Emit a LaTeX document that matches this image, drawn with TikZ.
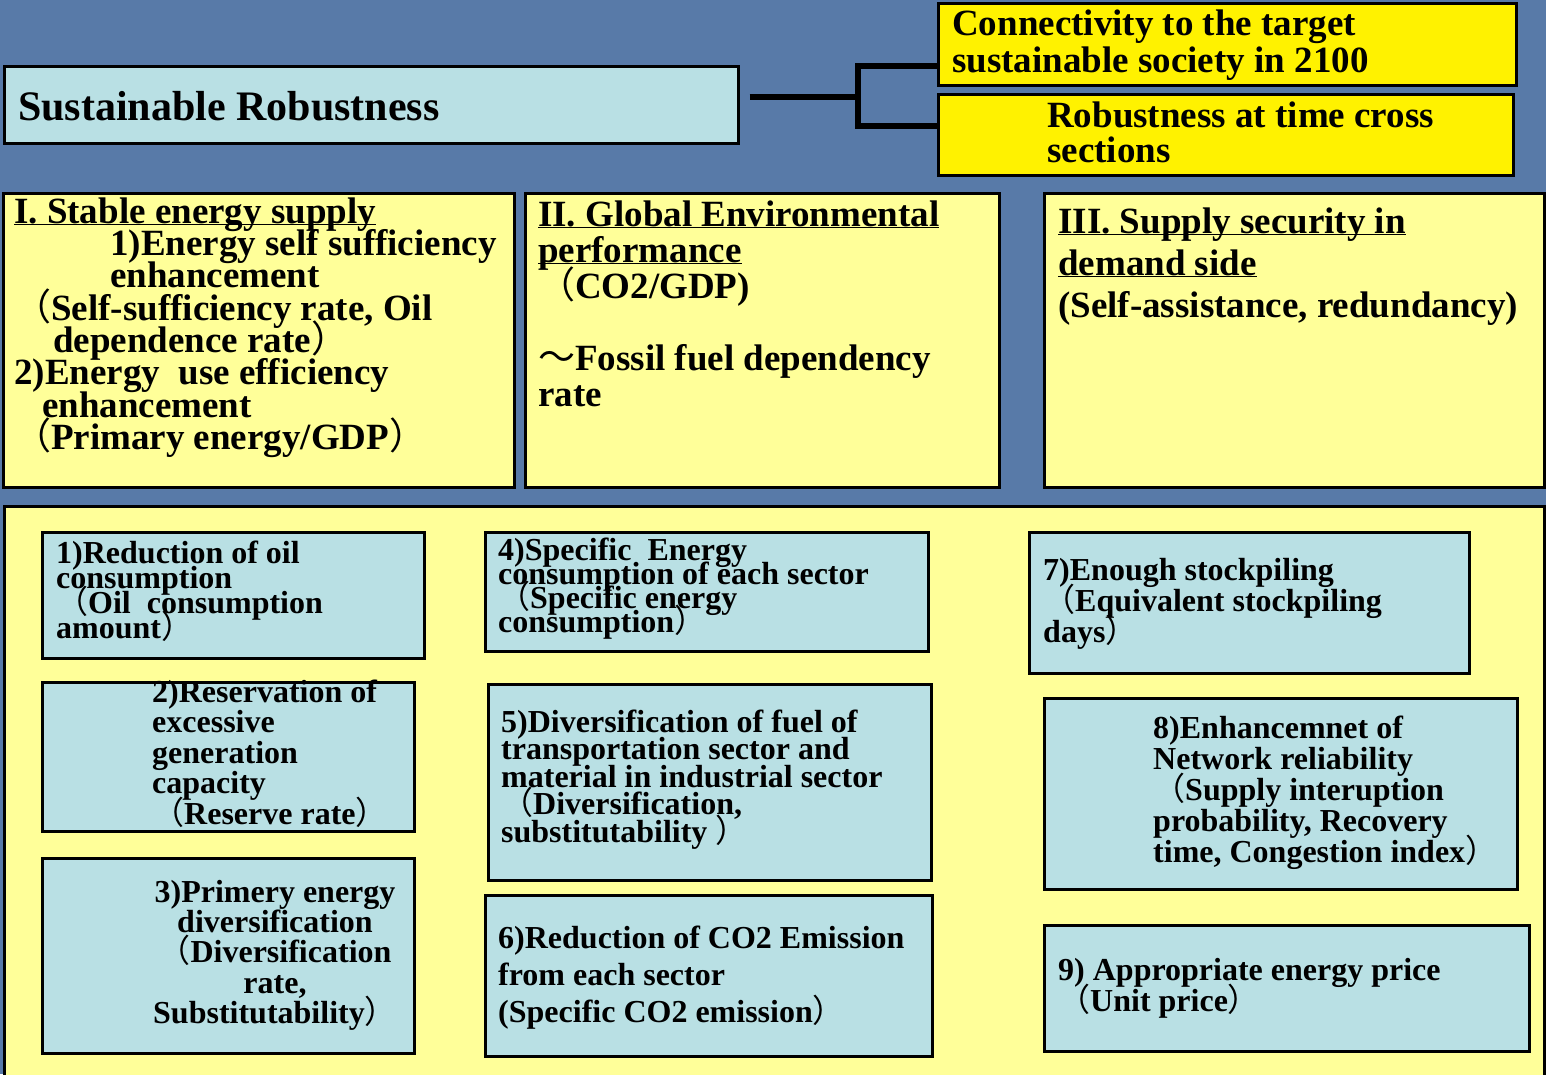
\documentclass[tikz,border=0pt]{standalone}
\usepackage{fontspec}
\setmainfont{Liberation Serif}
\newfontfamily\cjk{Noto Sans CJK JP}[BoldFont=*]
\usepackage{xcolor}
\usepackage{tikz}

\definecolor{slide}{RGB}{88,122,168}
\definecolor{paleblue}{RGB}{185,224,228}
\definecolor{paleyellow}{RGB}{255,255,153}

% font size / line spacing for the text blocks
\newcommand{\setfs}[2]{\fontsize{#1}{#2}\selectfont\bfseries\lineskiplimit=-1000pt\relax}
\newcommand{\tstrut}{\rule{0pt}{1em}}
\newcommand{\uln}[1]{\underline{\smash{#1}}}
\newcommand{\lpa}{{\cjk （}}
\newcommand{\rpa}{{\cjk ）}}
\newcommand{\tld}{{\cjk ～}}

\tikzset{
  tealbox/.style={draw=black, line width=2.5pt, fill=paleblue, anchor=north west, inner sep=0pt},
  creambox/.style={draw=black, line width=2.5pt, fill=paleyellow, anchor=north west, inner sep=0pt},
  goldbox/.style={draw=black, line width=2.5pt, fill=yellow, anchor=north west, inner sep=0pt},
  txt/.style={inner sep=0pt, anchor=north west, align=left},
  link/.style={draw=black, line width=6pt}
}

\begin{document}
\begin{tikzpicture}[x=1pt, y=-1pt]
% Slide background
\fill[slide] (0,0) rectangle (1546,1074);
\useasboundingbox (0,0) rectangle (1546,1074);

% Title and the two aspects
\node[tealbox, minimum width=734pt, minimum height=77pt] (title) at (3,65) {};
\node[txt, font={\setfs{42}{42}}] (titletxt) at (18,78) {\tstrut Sustainable Robustness};

\node[goldbox, minimum width=578pt, minimum height=82pt] (conn) at (937,2) {};
\node[txt, font={\setfs{37}{37}}] (conntxt) at (952,-2) {\tstrut Connectivity to the target\\
sustainable society in 2100};

\node[goldbox, minimum width=575pt, minimum height=81pt] (robust) at (937,93) {};
\node[txt, font={\setfs{37}{35}}] (robusttxt) at (1047,90) {\tstrut Robustness at time cross\\
sections};

% Bracket
\coordinate (stub) at ([xshift=10pt,yshift=8pt]title.east);
\coordinate (col) at (858,0);
\coordinate (fork) at (stub -| col);
\draw[link] (stub) -- (fork);
\draw[link] ([yshift=-22pt]conn.west) -| (fork) |- ([yshift=9pt]robust.west);

% Three viewpoints
\node[creambox, minimum width=511pt, minimum height=294pt] (supply) at (2,192) {};
\node[txt, font={\setfs{37}{32.3}}] (supplytxt) at (14,186) {\tstrut\uln{I. Stable energy supply}\\
\hspace*{96pt}1)Energy self sufficiency\\
\hspace*{96pt}enhancement\\
\lpa Self-sufficiency rate, Oil\\
\hspace*{39pt}dependence rate\rpa\\
2)Energy\ \ use efficiency\\
\hspace*{28pt}enhancement\\
\lpa Primary energy/GDP\rpa};

\node[creambox, minimum width=474pt, minimum height=294pt] (envir) at (524,192) {};
\node[txt, font={\setfs{37}{36}}] (envirtxt) at (538,189) {\tstrut\uln{II. Global Environmental}\\
\uln{performance}\\
\lpa CO2/GDP)\\
\\
\tld Fossil fuel dependency\\
rate};

\node[creambox, minimum width=500pt, minimum height=294pt] (demand) at (1043,192) {};
\node[txt, font={\setfs{37}{42}}] (demandtxt) at (1058,196) {\tstrut\uln{III. Supply security in}\\
\uln{demand side}\\
(Self-assistance, redundancy)};

% Indicators
\node[creambox, minimum width=1540pt, minimum height=580pt] (lower) at (3,505) {};

\node[tealbox, minimum width=382pt, minimum height=126pt] (ind1) at (41,531) {};
\node[txt, font={\setfs{32}{25}}] (ind1txt) at (56,531) {\tstrut 1)Reduction of oil\\
consumption\\
\lpa Oil\ \ consumption\\
amount\rpa};

\node[tealbox, minimum width=372pt, minimum height=149pt] (ind2) at (41,681) {};
\node[txt, font={\setfs{32}{30.5}}] (ind2txt) at (152,670) {\tstrut 2)Reservation of\\
excessive\\
generation\\
capacity\\
\lpa Reserve rate\rpa};

\node[tealbox, minimum width=372pt, minimum height=195pt] (ind3) at (41,857) {};
\node[txt, align=center, anchor=north, font={\setfs{32}{30.3}}] (ind3txt) at (275,870) {\tstrut 3)Primery energy\\
diversification\\
\lpa Diversification\\
rate,\\
Substitutability\rpa};

\node[tealbox, minimum width=443pt, minimum height=119pt] (ind4) at (484,531) {};
\node[txt, font={\setfs{32}{24}}] (ind4txt) at (498,528) {\tstrut 4)Specific\ \ Energy\\
consumption of each sector\\
\lpa Specific energy\\
consumption\rpa};

\node[tealbox, minimum width=443pt, minimum height=196pt] (ind5) at (487,683) {};
\node[txt, font={\setfs{32}{27.5}}] (ind5txt) at (501,700) {\tstrut 5)Diversification of fuel of\\
transportation sector and\\
material in industrial sector\\
\lpa Diversification,\\
substitutability \rpa};

\node[tealbox, minimum width=447pt, minimum height=161pt] (ind6) at (484,894) {};
\node[txt, font={\setfs{32}{37}}] (ind6txt) at (498,916) {\tstrut 6)Reduction of CO2 Emission\\
from each sector\\
(Specific CO2 emission\rpa};

\node[tealbox, minimum width=440pt, minimum height=141pt] (ind7) at (1028,531) {};
\node[txt, font={\setfs{32}{31}}] (ind7txt) at (1043,548) {\tstrut 7)Enough stockpiling\\
\lpa Equivalent stockpiling\\
days\rpa};

\node[tealbox, minimum width=473pt, minimum height=191pt] (ind8) at (1043,697) {};
\node[txt, font={\setfs{32}{31}}] (ind8txt) at (1153,706) {\tstrut 8)Enhancemnet of\\
Network reliability\\
\lpa Supply interuption\\
probability, Recovery\\
time, Congestion index\rpa};

\node[tealbox, minimum width=485pt, minimum height=126pt] (ind9) at (1043,924) {};
\node[txt, font={\setfs{32}{31}}] (ind9txt) at (1058,948) {\tstrut 9) Appropriate energy price\\
\lpa Unit price\rpa};

\end{tikzpicture}
\end{document}
